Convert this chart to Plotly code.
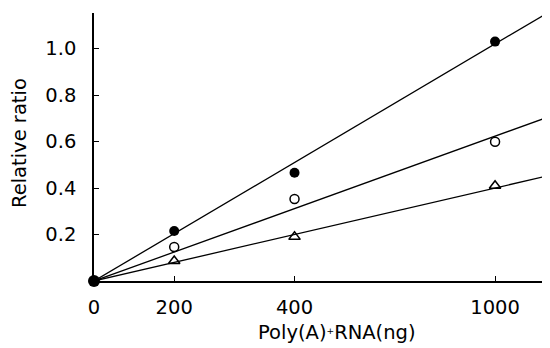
import plotly.graph_objects as go

# x positions on the (linear) drawing scale and the labels printed under them
x_pos = [0, 200, 500, 1000]
x_tick_labels = ["0", "200", "400", "1000"]

# measured relative ratios
closed_circle = [0.0, 0.215, 0.466, 1.03]
open_circle = [0.0, 0.146, 0.353, 0.599]
open_triangle = [0.0, 0.086, 0.19, 0.41]

# slopes of the fitted lines through the origin
fit_slopes = [0.00102, 0.000623, 0.0004]

y_ticks = [0.2, 0.4, 0.6, 0.8, 1.0]
y_tick_labels = ["0.2", "0.4", "0.6", "0.8", "1.0"]

x_max = 1132
y_max = 1.153

fig = go.Figure()

for s in fit_slopes:
    fig.add_trace(go.Scatter(x=[0, x_max], y=[0, s * x_max], mode="lines",
                             line=dict(color="black", width=1.3), showlegend=False,
                             hoverinfo="skip"))

fig.add_trace(go.Scatter(x=x_pos[1:], y=open_triangle[1:], mode="markers",
                         marker=dict(symbol="triangle-up-open", size=10, color="black",
                                     line=dict(width=1.5)),
                         cliponaxis=False, showlegend=False))
fig.add_trace(go.Scatter(x=x_pos[1:], y=open_circle[1:], mode="markers",
                         marker=dict(symbol="circle-open", size=9, color="black",
                                     line=dict(width=1.5)),
                         cliponaxis=False, showlegend=False))
fig.add_trace(go.Scatter(x=x_pos[1:], y=closed_circle[1:], mode="markers",
                         marker=dict(symbol="circle", size=10, color="black"),
                         cliponaxis=False, showlegend=False))
fig.add_trace(go.Scatter(x=x_pos[:1], y=closed_circle[:1], mode="markers",
                         marker=dict(symbol="circle", size=12, color="black"),
                         cliponaxis=False, showlegend=False))

font = dict(family="DejaVu Sans, sans-serif", color="black", size=19.5)

fig.update_layout(
    width=542, height=340,
    margin=dict(l=86, r=2, t=5, b=67),
    plot_bgcolor="white", paper_bgcolor="white",
    font=font,
    xaxis=dict(range=[0, x_max], showgrid=False, zeroline=False, automargin=False,
               showline=True, linecolor="black", linewidth=1.5,
               tickmode="array", tickvals=x_pos, ticktext=x_tick_labels,
               ticks="inside", ticklen=5, tickcolor="black", tickwidth=1,
               ticklabelstandoff=8),
    yaxis=dict(range=[0, y_max], showgrid=False, zeroline=False, automargin=False,
               showline=True, linecolor="black", linewidth=1.5,
               tickmode="array", tickvals=y_ticks, ticktext=y_tick_labels,
               ticks="inside", ticklen=5, tickcolor="black", tickwidth=1,
               ticklabelstandoff=12),
    annotations=[
        dict(text="Poly(A)<span style='font-size:13px'><sup>+</sup></span>RNA(ng)",
             xref="paper", yref="paper",
             x=0.535, y=-0.194, xanchor="center", yanchor="middle",
             showarrow=False, font=font),
        dict(text="Relative ratio", xref="paper", yref="paper",
             x=-0.163, y=0.515, xanchor="center", yanchor="middle",
             textangle=-90, showarrow=False, font=font),
    ],
)

fig.write_html("out.html")
